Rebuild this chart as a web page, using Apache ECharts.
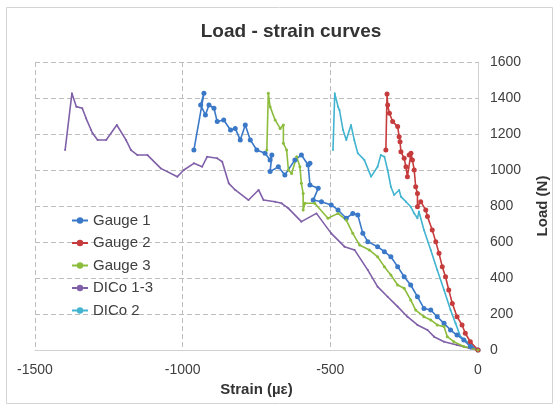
<!DOCTYPE html>
<html>
<head>
<meta charset="utf-8">
<script src="https://cdn.jsdelivr.net/npm/echarts@6/dist/echarts.min.js"></script>
<style>
  html, body { margin: 0; padding: 0; background: #fff; }
  #chart { width: 558px; height: 405px; }
</style>
</head>
<body>
<div id="chart"></div>
<script>
// [strain (µε), load (N)], origin -> peak -> drop
const gauge1 = [
  [0, 0], [-26, 19], [-48, 56], [-71, 83], [-93, 111], [-115, 148], [-138, 185], [-160, 222],
  [-183, 231], [-205, 296], [-228, 361], [-250, 407], [-272, 463], [-295, 518], [-317, 546],
  [-340, 574], [-373, 602], [-390, 648], [-407, 750], [-424, 759], [-446, 732], [-474, 778],
  [-497, 806], [-530, 824], [-558, 833], [-541, 898], [-569, 917], [-575, 1028], [-569, 1037],
  [-598, 1083], [-620, 1056], [-654, 972], [-676, 1018], [-704, 991], [-698, 1083], [-704, 1056],
  [-721, 1093], [-749, 1111], [-771, 1167], [-788, 1250], [-805, 1167], [-822, 1231], [-838, 1222],
  [-861, 1278], [-883, 1269], [-894, 1343], [-911, 1361], [-923, 1306], [-939, 1361], [-928, 1426],
  [-962, 1111]
]
const gauge2 = [
  [0, 0], [-26, 46], [-43, 93], [-54, 139], [-71, 185], [-87, 259], [-99, 333], [-110, 407],
  [-121, 463], [-132, 537], [-143, 602], [-155, 667], [-171, 741], [-177, 778], [-194, 824],
  [-205, 796], [-205, 870], [-211, 907], [-216, 1000], [-222, 1056], [-227, 1093], [-233, 1083],
  [-239, 963], [-244, 1018], [-250, 1065], [-261, 1102], [-264, 1157], [-267, 1185], [-272, 1241],
  [-289, 1269], [-300, 1315], [-306, 1361], [-308, 1422], [-312, 1111]
]
const gauge3 = [
  [0, 0], [-48, 19], [-82, 46], [-104, 74], [-115, 130], [-138, 139], [-160, 167], [-183, 185],
  [-211, 222], [-228, 278], [-250, 343], [-272, 361], [-295, 417], [-317, 463], [-340, 518],
  [-368, 556], [-401, 583], [-424, 648], [-446, 722], [-474, 759], [-508, 732], [-553, 815],
  [-586, 815], [-592, 778], [-592, 870], [-598, 926], [-603, 1018], [-614, 1074], [-631, 981],
  [-642, 1000], [-648, 1111], [-659, 1148], [-659, 1250], [-670, 1231], [-687, 1278], [-704, 1352],
  [-710, 1426], [-715, 1111]
]
const dico13 = [
  [0, 0], [-26, 9], [-71, 28], [-115, 46], [-149, 74], [-171, 111], [-205, 139], [-239, 185],
  [-272, 241], [-306, 296], [-340, 352], [-373, 444], [-418, 556], [-452, 574], [-497, 648],
  [-547, 759], [-598, 713], [-642, 787], [-665, 815], [-687, 824], [-726, 833], [-743, 889],
  [-777, 833], [-822, 889], [-844, 926], [-866, 1046], [-883, 1065], [-917, 1074], [-934, 1018],
  [-962, 1037], [-996, 1000], [-1018, 963], [-1074, 1009], [-1119, 1083], [-1153, 1083],
  [-1175, 1111], [-1192, 1167], [-1223, 1250], [-1259, 1167], [-1288, 1167], [-1305, 1204],
  [-1310, 1222], [-1327, 1287], [-1340, 1343], [-1360, 1352], [-1375, 1426], [-1398, 1111]
]
const dico2 = [
  [0, 0], [-59, 74], [-76, 148], [-93, 222], [-115, 333], [-138, 444], [-160, 556], [-183, 667],
  [-200, 769], [-205, 732], [-216, 759], [-228, 796], [-244, 824], [-261, 852], [-267, 889],
  [-284, 861], [-295, 907], [-306, 1000], [-317, 1074], [-329, 1083], [-340, 1018], [-362, 963],
  [-385, 1056], [-407, 1093], [-419, 1167], [-430, 1250], [-446, 1167], [-457, 1222], [-469, 1333],
  [-474, 1352], [-485, 1426], [-491, 1111]
]

const seriesNames = ['Gauge 1', 'Gauge 2', 'Gauge 3', 'DICo 1-3', 'DICo 2']
const seriesColors = ['#3a78c8', '#c63c3c', '#8cbc3c', '#8060a8', '#42b4d0']
const seriesData = [gauge1, gauge2, gauge3, dico13, dico2]
const markerSizes = [5, 5, 3, 2, 2]

const font = 'Liberation Sans, Arial, sans-serif'
const chart = echarts.init(document.getElementById('chart'), null, { renderer: 'canvas' })

const option = {
  animation: false,
  title: {
    text: 'Load - strain curves',
    left: 286,
    top: 17,
    textAlign: 'center',
    textStyle: { fontFamily: font, fontSize: 19, fontWeight: 'bold', color: '#333' }
  },
  graphic: [{
    type: 'rect',
    shape: { x: 6.5, y: 7.5, width: 546, height: 396 },
    style: { fill: 'none', stroke: '#d4d4d4', lineWidth: 1 },
    silent: true
  }],
  legend: {
    orient: 'vertical',
    left: 71,
    top: 213,
    padding: 0,
    itemGap: 7.5,
    itemWidth: 16,
    itemHeight: 8,
    textStyle: { fontFamily: font, fontSize: 15, color: '#404040' },
    data: seriesNames
  },
  grid: { left: 35, right: 77, top: 62, bottom: 55 },
  xAxis: {
    type: 'value',
    min: -1500,
    max: 0,
    interval: 500,
    name: 'Strain (µε)',
    nameLocation: 'middle',
    nameGap: 30,
    nameTextStyle: { fontFamily: font, fontSize: 15, fontWeight: 'bold', color: '#333' },
    axisLine: { show: true, lineStyle: { color: '#d0d0d0' } },
    axisTick: { show: false },
    axisLabel: { fontFamily: font, fontSize: 14, color: '#404040', margin: 13, formatter: v => String(v) },
    splitLine: { show: true, lineStyle: { color: '#bdbdbd', type: [5, 3] } }
  },
  yAxis: {
    type: 'value',
    position: 'right',
    min: 0,
    max: 1600,
    interval: 200,
    name: 'Load (N)',
    nameLocation: 'middle',
    nameRotate: 90,
    nameGap: 57,
    nameTextStyle: { fontFamily: font, fontSize: 15, fontWeight: 'bold', color: '#333' },
    axisLine: { show: true, lineStyle: { color: '#d0d0d0' } },
    axisTick: { show: false },
    axisLabel: { fontFamily: font, fontSize: 14, color: '#404040', margin: 12, formatter: v => String(v) },
    splitLine: { show: true, lineStyle: { color: '#bdbdbd', type: [5, 3] } }
  },
  series: seriesNames.map((name, i) => ({
    name: name,
    type: 'line',
    data: seriesData[i],
    symbol: 'circle',
    symbolSize: markerSizes[i],
    showSymbol: true,
    lineStyle: { color: seriesColors[i], width: 1.6 },
    itemStyle: { color: seriesColors[i] },
    z: i < 3 ? 3 : 2
  }))
}

chart.setOption(option)
</script>
</body>
</html>
